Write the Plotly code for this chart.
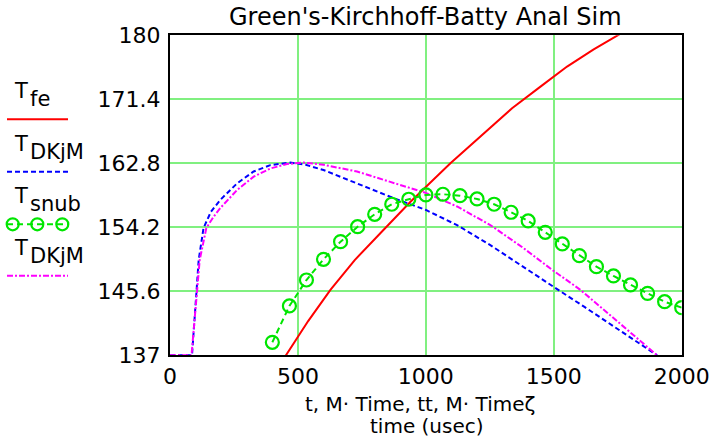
import plotly.graph_objects as go

# ---- data ----
fe_t = [440, 540, 627, 722, 822, 939, 1096, 1213, 1337, 1448, 1552, 1656, 1760]
fe_T = [136.3, 141.6, 145.8, 149.8, 153.4, 157.6, 162.8, 166.4, 170.2, 173.1, 175.8, 178.1, 180.2]

dk_t = [0, 86, 103, 112, 131, 160, 197, 262, 327, 392, 470, 530, 600, 731, 861, 1002, 1122, 1252,
        1369, 1448, 1526, 1620, 1708, 1800, 1904]
dk_T = [137.0, 137.0, 145.3, 149.8, 154.1, 156.3, 157.9, 160.1, 161.7, 162.55, 162.9, 162.6, 161.9,
        160.1, 158.3, 156.5, 154.5, 151.8, 149.2, 147.4, 145.6, 143.5, 141.5, 139.3, 137.0]

snub_t = [400, 466.7, 533.3, 600, 666.7, 733.3, 800, 866.7, 933.3, 1000, 1066.7, 1133.3, 1200,
          1266.7, 1333.3, 1400, 1466.7, 1533.3, 1600, 1666.7, 1733.3, 1800, 1866.7, 1933.3, 2000]
snub_T = [138.75, 143.63, 147.12, 149.90, 152.27, 154.28, 155.95, 157.30, 157.97, 158.55, 158.64,
          158.45, 158.01, 157.30, 156.22, 155.05, 153.53, 151.96, 150.39, 148.91, 147.66, 146.45,
          145.33, 144.20, 143.40]

dk2_t = [0, 84, 105, 116, 142, 170, 197, 262, 327, 392, 457, 522, 600, 731, 861, 1002, 1122, 1252,
         1382, 1493, 1604, 1700, 1787, 1865, 1904]
dk2_T = [137.0, 137.0, 145.3, 149.8, 154.1, 155.6, 156.8, 159.2, 161.0, 162.1, 162.7, 162.9, 162.6,
         161.7, 160.3, 158.8, 157.0, 154.5, 151.4, 148.5, 145.8, 143.0, 140.4, 138.2, 137.0]

x_ticks = [0, 500, 1000, 1500, 2000]
y_ticks = [137, 145.6, 154.2, 162.8, 171.4, 180]
y_tick_text = ["137", "145.6", "154.2", "162.8", "171.4", "180"]

title_text = "Green's-Kirchhoff-Batty Anal Sim"
xlabel1 = "t, M\u00b7 Time, tt, M\u00b7 Time\u03b6"
xlabel2 = "time (usec)"

RED = "#ff0000"
BLUE = "#0000ff"
GREEN = "#00e600"
MAGENTA = "#ff00ff"
GRID = "rgb(128,240,128)"
FONT = "DejaVu Sans"

W, H = 714, 445
L, R, T, B = 170, 681.7, 35.3, 355.3


def px(x):
    return x / W


def py(y):
    return 1 - y / H


fig = go.Figure()
fig.add_trace(go.Scatter(x=fe_t, y=fe_T, mode="lines", line=dict(color=RED, width=2)))
fig.add_trace(go.Scatter(x=dk_t, y=dk_T, mode="lines", line=dict(color=BLUE, width=2, dash="5px,3px")))
fig.add_trace(go.Scatter(x=dk2_t, y=dk2_T, mode="lines",
                         line=dict(color=MAGENTA, width=2, dash="6px,2px,2px,2px")))
fig.add_trace(go.Scatter(x=snub_t, y=snub_T, mode="lines+markers",
                         line=dict(color=GREEN, width=2, dash="6px,4px"),
                         marker=dict(symbol="circle-open", size=13, color=GREEN, line=dict(width=2.2, color=GREEN))))

fig.update_layout(
    width=W, height=H, showlegend=False,
    margin=dict(l=0, r=0, t=0, b=0, autoexpand=False),
    paper_bgcolor="white", plot_bgcolor="white",
    font=dict(family=FONT, color="black"),
    xaxis=dict(domain=[px(L), px(R)], range=[0, 2000], tickvals=x_ticks, showgrid=True,
               gridcolor=GRID, gridwidth=2, zeroline=False, showline=True, linecolor="black",
               linewidth=2, mirror=True, ticks="", tickfont=dict(size=22, family=FONT),
               ticklabelstandoff=0, automargin=False),
    yaxis=dict(domain=[py(B), py(T)], range=[137, 180], tickvals=y_ticks, ticktext=y_tick_text,
               showgrid=True, gridcolor=GRID, gridwidth=2, zeroline=False, showline=True,
               linecolor="black", linewidth=2, mirror=True, ticks="",
               tickfont=dict(size=22, family=FONT), ticklabelstandoff=3, automargin=False),
)

ann = []
ann.append(dict(text=title_text, x=px((L + R) / 2), y=py(17), xref="paper", yref="paper",
                showarrow=False, xanchor="center", yanchor="middle", font=dict(size=24, family=FONT)))
ann.append(dict(text=xlabel1, x=px(420), y=py(404), xref="paper", yref="paper",
                showarrow=False, xanchor="center", yanchor="middle", font=dict(size=20, family=FONT)))
ann.append(dict(text=xlabel2, x=px(427), y=py(426), xref="paper", yref="paper",
                showarrow=False, xanchor="center", yanchor="middle", font=dict(size=20, family=FONT)))

# legend (text above a line sample), drawn at the left
legend_items = [("fe", 91, 119.3, RED, "solid"),
                ("DKjM", 144, 171.7, BLUE, "5px,3px"),
                ("snub", 196, 224.3, GREEN, "6px,4px"),
                ("DKjM", 248, 275.7, MAGENTA, "6px,2px,2px,2px")]
shapes = []
for sub, ty, ly, col, dash in legend_items:
    ann.append(dict(text="T", x=px(12), y=py(ty), xref="paper", yref="paper", showarrow=False,
                    xanchor="left", yanchor="middle", font=dict(size=21, family=FONT)))
    ann.append(dict(text=sub, x=px(28), y=py(ty + 8), xref="paper", yref="paper", showarrow=False,
                    xanchor="left", yanchor="middle", font=dict(size=21, family=FONT)))
    shapes.append(dict(type="line", xref="paper", yref="paper", x0=px(7), x1=px(68), y0=py(ly), y1=py(ly),
                       line=dict(color=col, width=2, dash=dash)))
for cx in [12.7, 37.3, 62.3]:
    shapes.append(dict(type="circle", xref="paper", yref="paper", x0=px(cx - 6), x1=px(cx + 6),
                       y0=py(224.3 - 6), y1=py(224.3 + 6), line=dict(color=GREEN, width=2.2)))

fig.update_layout(annotations=ann, shapes=shapes)
fig.write_html("out.html", config={"displayModeBar": False},
               post_script="document.body.style.margin='0';document.body.style.padding='0';")
